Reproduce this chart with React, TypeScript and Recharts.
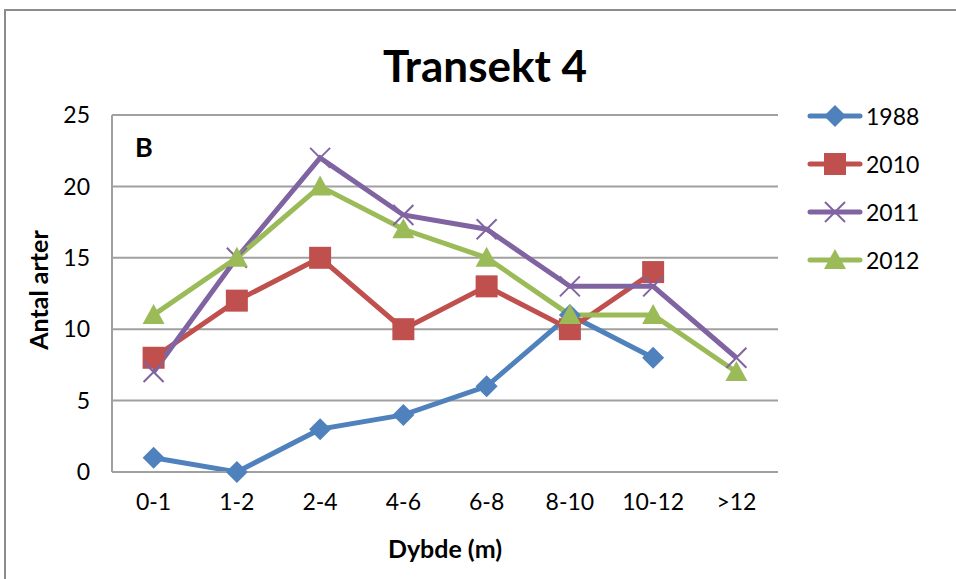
import React from "react";
import { LineChart, Line, XAxis, YAxis, CartesianGrid } from "recharts";

const depths = ["0-1", "1-2", "2-4", "4-6", "6-8", "8-10", "10-12", ">12"];
const s1988 = [1, 0, 3, 4, 6, 11, 8, null];
const s2010 = [8, 12, 15, 10, 13, 10, 14, null];
const s2011 = [7, 15, 22, 18, 17, 13, 13, 8];
const s2012 = [11, 15, 20, 17, 15, 11, 11, 7];
const yTicks = [0, 5, 10, 15, 20, 25];
const seriesNames = ["1988", "2010", "2011", "2012"] as const;

const COLORS = {
  "1988": "#4F81BD",
  "2010": "#C0504D",
  "2011": "#8064A2",
  "2012": "#9BBB59",
};

const data = depths.map((d, i) => ({
  depth: d,
  "1988": s1988[i],
  "2010": s2010[i],
  "2011": s2011[i],
  "2012": s2012[i],
}));

const FONT = "Lato, 'Open Sans', sans-serif";

const Marker = ({ kind, cx, cy, color }: any) => {
  if (cx == null || cy == null) return null;
  if (kind === "diamond") {
    const r = 11;
    return <polygon points={`${cx},${cy - r} ${cx + r},${cy} ${cx},${cy + r} ${cx - r},${cy}`} fill={color} />;
  }
  if (kind === "square") {
    const r = 11;
    return <rect x={cx - r} y={cy - r} width={r * 2} height={r * 2} fill={color} />;
  }
  if (kind === "x") {
    const r = 10;
    return (
      <g stroke={color} strokeWidth={2}>
        <line x1={cx - r} y1={cy - r} x2={cx + r} y2={cy + r} />
        <line x1={cx - r} y1={cy + r} x2={cx + r} y2={cy - r} />
      </g>
    );
  }
  const r = 11;
  return <polygon points={`${cx},${cy - r} ${cx + r},${cy + 9} ${cx - r},${cy + 9}`} fill={color} />;
};

const kinds: Record<string, string> = { "1988": "diamond", "2010": "square", "2011": "x", "2012": "triangle" };

const makeDot = (key: string) => (props: any) => {
  const { cx, cy, value, index } = props;
  if (value == null) return <g key={`${key}-${index}`} />;
  return (
    <g key={`${key}-${index}`}>
      <Marker kind={kinds[key]} cx={cx} cy={cy} color={COLORS[key as keyof typeof COLORS]} />
    </g>
  );
};

const LegendBox = () => (
  <div style={{ position: "absolute", left: 806, top: 92, fontFamily: FONT, fontSize: 23, color: "#000" }}>
    {seriesNames.map((k) => (
      <div key={k} style={{ display: "flex", alignItems: "center", height: 48 }}>
        <svg width={58} height={30}>
          <line x1={4} y1={15} x2={54} y2={15} stroke={COLORS[k]} strokeWidth={5} strokeLinecap="round" />
          <Marker kind={kinds[k]} cx={29} cy={15} color={COLORS[k]} />
        </svg>
        <span style={{ marginLeft: 2 }}>{k}</span>
      </div>
    ))}
  </div>
);

export default function App() {
  return (
    <div style={{ position: "fixed", left: 0, top: 0, width: 956, height: 579, overflow: "hidden", background: "#fff" }}>
      <div style={{ position: "absolute", left: 4, top: 9, width: 1000, height: 700, border: "2px solid #8c8c8c" }} />
      <LineChart
        width={956}
        height={579}
        data={data}
        margin={{ top: 115, right: 178, left: 52, bottom: 67 }}
        style={{ position: "absolute", left: 0, top: 0 }}
      >
        <CartesianGrid vertical={false} stroke="#a0a0a0" strokeWidth={2} />
        <XAxis
          dataKey="depth"
          height={40}
          padding={{ left: 41.6, right: 41.6 }}
          axisLine={{ stroke: "#a0a0a0", strokeWidth: 2 }}
          tickLine={false}
          tick={{ fontFamily: FONT, fontSize: 23, fill: "#000", dy: 14 }}
          interval={0}
        />
        <YAxis
          width={60}
          domain={[0, 25]}
          ticks={yTicks}
          axisLine={{ stroke: "#a0a0a0", strokeWidth: 2 }}
          tickLine={false}
          tick={{ fontFamily: FONT, fontSize: 23, fill: "#000", dx: -14 }}
          interval={0}
        />
        {seriesNames.map((k) => (
          <Line
            key={k}
            dataKey={k}
            stroke={COLORS[k]}
            strokeWidth={5}
            dot={makeDot(k)}
            activeDot={false}
            isAnimationActive={false}
            connectNulls={false}
            legendType="none"
          />
        ))}
      </LineChart>
      <div
        style={{
          position: "absolute", left: 0, top: 39, width: 970, textAlign: "center",
          fontFamily: FONT, fontWeight: "bold", fontSize: 44, color: "#000",
        }}
      >
        Transekt 4
      </div>
      <div style={{ position: "absolute", left: 135, top: 130, fontFamily: FONT, fontWeight: "bold", fontSize: 27 }}>B</div>
      <div
        style={{
          position: "absolute", left: 38, top: 290, transform: "translate(-50%, -50%) rotate(-90deg)",
          fontFamily: FONT, fontWeight: "bold", fontSize: 25, whiteSpace: "nowrap",
        }}
      >
        Antal arter
      </div>
      <div
        style={{
          position: "absolute", left: 445, top: 548, transform: "translate(-50%, -50%)",
          fontFamily: FONT, fontWeight: "bold", fontSize: 25, whiteSpace: "nowrap",
        }}
      >
        Dybde (m)
      </div>
      <LegendBox />
    </div>
  );
}
